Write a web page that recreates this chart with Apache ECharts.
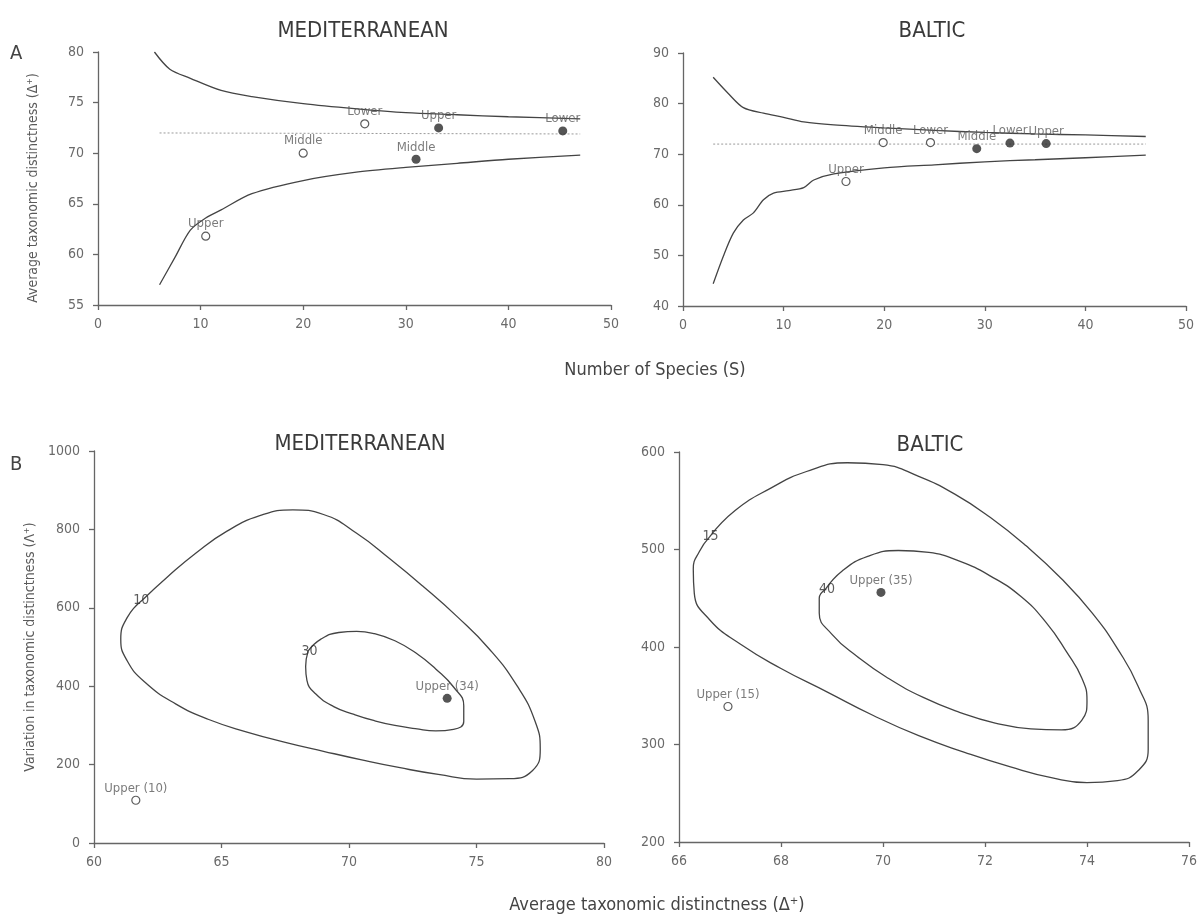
<!DOCTYPE html>
<html>
<head>
<meta charset="utf-8">
<script src="https://cdn.jsdelivr.net/npm/echarts@6/dist/echarts.min.js"></script>
<style>
  html, body { margin: 0; padding: 0; background: #fff; }
  #chart { width: 1200px; height: 919px; }
</style>
</head>
<body>
<div id="chart"></div>
<script>
// ---- Panel A : Mediterranean (number of species vs average taxonomic distinctness)
const medUpperS = [5.5, 7, 9, 12, 15, 20, 25, 30, 35, 40, 47];
const medUpperD = [80, 78.3, 77.4, 76.2, 75.6, 74.9, 74.4, 74.0, 73.8, 73.6, 73.4];
const medLowerS = [6, 7.5, 9, 10.5, 12, 15, 20, 25, 30, 35, 40, 47];
const medLowerD = [57, 59.7, 62.4, 63.6, 64.4, 66, 67.3, 68.1, 68.6, 69, 69.4, 69.8];
const medMeanS = [6, 47];
const medMeanD = [72, 71.9];
const medOpenS = [10.5, 20, 26];
const medOpenD = [61.8, 70.0, 72.9];
const medOpenNames = ['Upper', 'Middle', 'Lower'];
const medFilledS = [31, 33.2, 45.3];
const medFilledD = [69.4, 72.5, 72.2];
const medFilledNames = ['Middle', 'Upper', 'Lower'];

// ---- Panel A : Baltic
const balUpperS = [3, 4.5, 6, 8, 10, 12, 15, 20, 25, 30, 35, 40, 46];
const balUpperD = [85.2, 82, 79.2, 78.1, 77.3, 76.4, 75.8, 75.2, 74.7, 74.3, 74.0, 73.8, 73.5];
const balLowerS = [3, 4, 5, 6, 7, 8, 9, 10.5, 12, 13, 15, 20, 25, 30, 35, 40, 46];
const balLowerD = [44.4, 49.8, 54.4, 57, 58.4, 61, 62.3, 62.8, 63.4, 64.9, 66.1, 67.3, 67.9, 68.5, 68.9, 69.3, 69.8];
const balMeanS = [3, 46];
const balMeanD = [72, 72];
const balOpenS = [16.2, 19.9, 24.6];
const balOpenD = [64.6, 72.3, 72.3];
const balOpenNames = ['Upper', 'Middle', 'Lower'];
const balFilledS = [29.2, 32.5, 36.1];
const balFilledD = [71.1, 72.2, 72.1];
const balFilledNames = ['Middle', 'Lower', 'Upper'];

// ---- Panel B : Mediterranean (delta+ vs lambda+ probability contours)
const med10D = [61.9, 62.9, 64.0, 65.2, 66.5, 67.8, 69.0, 70.3, 71.6, 72.9, 74.2, 75.5, 76.6, 77.3, 77.5, 77.2, 76.3, 75.0, 73.5, 72.0, 70.5, 69.0, 67.5, 66.0, 64.5, 63.2, 62.0, 61.3, 61.05, 61.3, 61.9];
const med10L = [620, 680, 740, 795, 835, 850, 838, 790, 725, 655, 580, 495, 400, 310, 240, 185, 164, 163, 175, 192, 212, 234, 257, 283, 315, 355, 410, 465, 520, 575, 620];
const med30D = [68.4, 68.9, 69.6, 70.3, 71.0, 71.8, 72.6, 73.4, 74.1, 74.5, 74.5, 74.1, 73.4, 72.6, 71.8, 71.0, 70.2, 69.4, 68.7, 68.35, 68.3, 68.4];
const med30L = [490, 520, 537, 540, 534, 516, 486, 444, 398, 350, 310, 290, 286, 292, 300, 312, 328, 348, 380, 415, 450, 490];
const medContourNames = ['10', '30'];
const medContourD = [61.85, 68.45];
const medContourL = [620, 490];
const medPointNames = ['Upper (10)', 'Upper (34)'];
const medPointD = [61.64, 73.85];
const medPointL = [109, 369];

// ---- Panel B : Baltic
const bal15D = [66.6, 67.1, 67.8, 68.5, 69.3, 70.0, 70.7, 71.4, 72.1, 72.8, 73.5, 74.1, 74.6, 75.0, 75.2, 75.2, 75.0, 74.6, 74.0, 73.3, 72.5, 71.6, 70.7, 69.8, 68.9, 68.0, 67.2, 66.6, 66.3, 66.28, 66.4, 66.6];
const bal15L = [513, 540, 563, 580, 589, 587, 575, 557, 533, 504, 470, 435, 398, 360, 325, 295, 273, 263, 261, 266, 277, 292, 309, 330, 354, 378, 403, 428, 455, 480, 498, 513];
const bal40D = [68.87, 69.2, 69.7, 70.3, 70.9, 71.5, 72.1, 72.7, 73.2, 73.6, 73.9, 74.0, 73.9, 73.5, 72.9, 72.2, 71.5, 70.8, 70.1, 69.5, 69.0, 68.75, 68.75, 68.87];
const bal40L = [459, 478, 493, 499, 497, 488, 473, 452, 425, 395, 368, 345, 325, 315, 316, 322, 333, 348, 368, 390, 413, 435, 450, 459];
const balContourNames = ['15', '40'];
const balContourD = [66.62, 68.9];
const balContourL = [513, 459];
const balPointNames = ['Upper (15)', 'Upper (35)'];
const balPointD = [66.96, 69.96];
const balPointL = [339, 456];

// ---- axis ticks [min, max, interval]
const medAYTicks = [55, 80, 5];
const balAYTicks = [40, 90, 10];
const aXTicks = [0, 50, 10];
const medBXTicks = [60, 80, 5];
const medBYTicks = [0, 1000, 200];
const balBXTicks = [66, 76, 2];
const balBYTicks = [200, 600, 100];

const FONT = "'Liberation Sans Narrow', 'DejaVu Sans Condensed', 'Liberation Sans', sans-serif";
const INK = '#444';
const TXT = '#5a5a5a';

const zip = (a, b) => a.map((v, i) => [v, b[i]]);
const named = (names, a, b) => names.map((n, i) => ({ name: n, value: [a[i], b[i]] }));

function axis(t, idx, isX) {
  return {
    type: 'value', gridIndex: idx, min: t[0], max: t[1], interval: t[2],
    axisLine: { show: true, onZero: false, lineStyle: { color: '#666', width: 1.3 } },
    axisTick: { show: true, length: 5, lineStyle: { color: '#666', width: 1.3 } },
    axisLabel: { color: '#6a6a6a', fontFamily: FONT, fontSize: 14, margin: isX ? 12 : 14, formatter: v => String(v) },
    splitLine: { show: false }
  };
}

function curve(idx, data, smooth) {
  return {
    type: 'line', xAxisIndex: idx, yAxisIndex: idx, data: data, showSymbol: false,
    symbol: 'none', smooth: smooth, lineStyle: { color: INK, width: 1.3 }, silent: true
  };
}

function dotted(idx, data) {
  return {
    type: 'line', xAxisIndex: idx, yAxisIndex: idx, data: data, symbol: 'none',
    lineStyle: { color: '#9a9a9a', width: 1, type: [2, 2] }, silent: true
  };
}

function points(idx, data, filled) {
  return {
    type: 'scatter', xAxisIndex: idx, yAxisIndex: idx, data: data, symbol: 'circle',
    symbolSize: filled ? 9 : 8, z: 5,
    itemStyle: filled ? { color: '#2a2a2a' } : { color: '#fff', borderColor: '#333', borderWidth: 1.2 },
    label: { show: true, position: 'top', distance: 1, formatter: '{b}', color: TXT, fontFamily: FONT, fontSize: 13 }
  };
}

function contourLabels(idx, data) {
  return {
    type: 'scatter', xAxisIndex: idx, yAxisIndex: idx, data: data, symbolSize: 0, z: 6,
    label: { show: true, position: 'inside', formatter: '{b}', color: '#333', fontFamily: FONT, fontSize: 14 }
  };
}

const titleStyle = { fontFamily: FONT, fontSize: 22, fontWeight: 'normal', color: '#3a3a3a' };

const chart = echarts.init(document.getElementById('chart'));
chart.setOption({
  animation: false,
  backgroundColor: '#fff',
  textStyle: { fontFamily: FONT },
  title: [
    { text: 'MEDITERRANEAN', left: 358, top: 15, textAlign: 'center', textStyle: titleStyle },
    { text: 'BALTIC', left: 927, top: 15, textAlign: 'center', textStyle: titleStyle },
    { text: 'MEDITERRANEAN', left: 355, top: 428, textAlign: 'center', textStyle: titleStyle },
    { text: 'BALTIC', left: 925, top: 429, textAlign: 'center', textStyle: titleStyle }
  ],
  grid: [
    { left: 98, top: 52, width: 513, height: 253 },
    { left: 683, top: 53, width: 503, height: 253 },
    { left: 94, top: 451, width: 510, height: 392 },
    { left: 679, top: 452, width: 512, height: 390 }
  ],
  xAxis: [axis(aXTicks, 0, true), axis(aXTicks, 1, true), axis(medBXTicks, 2, true), axis(balBXTicks, 3, true)],
  yAxis: [axis(medAYTicks, 0, false), axis(balAYTicks, 1, false), axis(medBYTicks, 2, false), axis(balBYTicks, 3, false)],
  graphic: [
    { type: 'text', left: 10, top: 44, style: { text: 'A', font: '20px ' + FONT, fill: INK } },
    { type: 'text', left: 10, top: 455, style: { text: 'B', font: '20px ' + FONT, fill: INK } },
    { type: 'text', x: 655, y: 370, style: { text: 'Number of Species (S)', font: '18px ' + FONT, fill: INK, align: 'center', verticalAlign: 'middle' } },
    { type: 'text', x: 657, y: 905, style: { text: 'Average taxonomic distinctness (Δ⁺)', font: '18px ' + FONT, fill: INK, align: 'center', verticalAlign: 'middle' } },
    { type: 'text', x: 33, y: 188, rotation: Math.PI / 2, style: { text: 'Average taxonomic distinctness (Δ⁺)', font: '14px ' + FONT, fill: TXT, align: 'center', verticalAlign: 'middle' } },
    { type: 'text', x: 30, y: 647, rotation: Math.PI / 2, style: { text: 'Variation in taxonomic distinctness (Λ⁺)', font: '14px ' + FONT, fill: TXT, align: 'center', verticalAlign: 'middle' } }
  ],
  series: [
    curve(0, zip(medUpperS, medUpperD), 0.3),
    curve(0, zip(medLowerS, medLowerD), 0.3),
    dotted(0, zip(medMeanS, medMeanD)),
    points(0, named(medOpenNames, medOpenS, medOpenD), false),
    points(0, named(medFilledNames, medFilledS, medFilledD), true),

    curve(1, zip(balUpperS, balUpperD), 0.3),
    curve(1, zip(balLowerS, balLowerD), 0.3),
    dotted(1, zip(balMeanS, balMeanD)),
    points(1, named(balOpenNames, balOpenS, balOpenD), false),
    points(1, named(balFilledNames, balFilledS, balFilledD), true),

    curve(2, zip(med10D, med10L), 0.5),
    curve(2, zip(med30D, med30L), 0.5),
    contourLabels(2, named(medContourNames, medContourD, medContourL)),
    points(2, [named(medPointNames, medPointD, medPointL)[0]], false),
    points(2, [named(medPointNames, medPointD, medPointL)[1]], true),

    curve(3, zip(bal15D, bal15L), 0.5),
    curve(3, zip(bal40D, bal40L), 0.5),
    contourLabels(3, named(balContourNames, balContourD, balContourL)),
    points(3, [named(balPointNames, balPointD, balPointL)[0]], false),
    points(3, [named(balPointNames, balPointD, balPointL)[1]], true)
  ]
});
</script>
</body>
</html>
